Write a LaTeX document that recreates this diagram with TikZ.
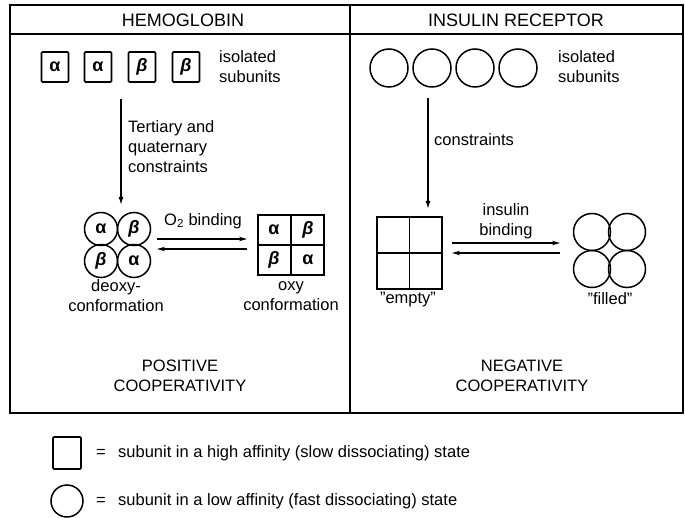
\documentclass[tikz,border=0pt]{standalone}
\usepackage{fontspec}
\setmainfont{Liberation Sans}
\usetikzlibrary{arrows.meta}

% Greek subunit labels
\newcommand\galpha{\textbf{α}}
\newcommand\gbeta{\textbf{\textit{β}}}

\tikzset{
  frame/.style={line width=1.8pt},
  greek/.style={font=\fontsize{18}{18}\selectfont},
  sqsub/.style={draw, line width=1.7pt, rounded corners=1pt, minimum width=27pt,
                minimum height=30pt, inner sep=0pt, greek},
  rdsub/.style={draw, circle, line width=1.5pt, inner sep=0pt, greek},
  tetra/.style={draw, line width=1.7pt, inner sep=0pt},
  label/.style={align=center, inner sep=0pt},
  leftlabel/.style={align=left, inner sep=0pt, anchor=west},
  header/.style={label, font=\fontsize{18}{20}\selectfont},
  fold/.style={line width=1.4pt, -{Latex[length=8pt,width=5pt]}},
  eqarrow/.style={line width=1.3pt, -{Stealth[length=8pt,width=4.5pt]}},
}

\begin{document}
\begin{tikzpicture}[x=1pt, y=-1pt, font=\fontsize{16.5}{20}\selectfont]
\useasboundingbox (0,0) rectangle (685,518);

% outer frame, panel divider and header band
\draw[frame] (10,5) rectangle (683,413);
\draw[frame] (350,5) -- (350,413);
\draw[frame] (10,34) -- (683,34);
\node[header] (hbhead) at (183,20) {HEMOGLOBIN};
\node[header] (irhead) at (516,20) {INSULIN RECEPTOR};

% ---------- hemoglobin ----------
\node[sqsub] (ha1) at (55,67)  {\galpha};
\node[sqsub] (ha2) at (98,67)  {\galpha};
\node[sqsub] (hb1) at (142,67) {\gbeta};
\node[sqsub] (hb2) at (186,67) {\gbeta};
\node[leftlabel] (hbiso) at (219,67) {isolated\\subunits};

\coordinate (hbfrom) at (121,99);
\coordinate (hbto) at (121,205);
\draw[fold] (hbfrom) -- (hbto);
\node[leftlabel] (hbcons) at (128,147) {Tertiary and\\quaternary\\constraints};

% deoxy tetramer: four touching circles
\node[rdsub, minimum size=33pt] (d1) at (101,229) {\galpha};
\node[rdsub, minimum size=33pt] (d2) at (134,229) {\gbeta};
\node[rdsub, minimum size=33pt] (d3) at (101,261) {\gbeta};
\node[rdsub, minimum size=33pt] (d4) at (134,261) {\galpha};
\node[label] (deoxy) at (116,296) {deoxy-\\conformation};

% oxygen binding equilibrium
\node[label] (o2) at (203,221) {O\textsubscript{2} binding};
\coordinate (hbl1) at (157,239);
\coordinate (hbr1) at (247,239);
\coordinate (hbl2) at (157,249);
\coordinate (hbr2) at (247,249);
\draw[eqarrow] (hbl1) -- (hbr1);
\draw[eqarrow] (hbr2) -- (hbl2);

% oxy tetramer: 2x2 grid of squares
\node[tetra, minimum width=66pt, minimum height=60pt] (oxy) at (291,245) {};
\draw[line width=1.5pt] (oxy.north) -- (oxy.south);
\draw[line width=1.5pt] (oxy.west) -- (oxy.east);
\node[greek] (o1) at (274,230) {\galpha};
\node[greek] (o2b) at (308,230) {\gbeta};
\node[greek] (o3) at (274,260) {\gbeta};
\node[greek] (o4) at (308,260) {\galpha};
\node[label] (oxylab) at (291,296) {oxy\\conformation};

\node[label] (poscoop) at (180,376) {POSITIVE\\COOPERATIVITY};

% ---------- insulin receptor ----------
\node[rdsub, minimum size=38pt] (i1) at (389,68) {};
\node[rdsub, minimum size=38pt] (i2) at (432,68) {};
\node[rdsub, minimum size=38pt] (i3) at (475,68) {};
\node[rdsub, minimum size=38pt] (i4) at (518,68) {};
\node[leftlabel] (iriso) at (558,67) {isolated\\subunits};

\coordinate (irfrom) at (428,98);
\coordinate (irto) at (428,209);
\draw[fold] (irfrom) -- (irto);
\node[leftlabel] (ircons) at (434,140) {constraints};

% "empty" receptor: 2x2 grid of squares
\node[tetra, minimum width=65pt, minimum height=72pt] (empty) at (409.5,253) {};
\draw[line width=1.5pt] (empty.north) -- (empty.south);
\draw[line width=1.5pt] (empty.west) -- (empty.east);
\node[label] (emptylab) at (408,300) {''empty''};

% insulin binding equilibrium
\node[label] (insbind) at (506,221) {insulin\\binding};
\coordinate (irl1) at (452,243);
\coordinate (irr1) at (560,243);
\coordinate (irl2) at (452,253);
\coordinate (irr2) at (560,253);
\draw[eqarrow] (irl1) -- (irr1);
\draw[eqarrow] (irr2) -- (irl2);

% "filled" receptor: four touching circles
\node[rdsub, minimum size=37pt] (f1) at (592,232) {};
\node[rdsub, minimum size=37pt] (f2) at (627,232) {};
\node[rdsub, minimum size=37pt] (f3) at (592,269) {};
\node[rdsub, minimum size=37pt] (f4) at (627,269) {};
\node[label] (filledlab) at (610,299) {''filled''};

\node[label] (negcoop) at (522,376) {NEGATIVE\\COOPERATIVITY};

% ---------- key ----------
\node[sqsub, minimum width=28pt, minimum height=32pt] (keysq) at (67,453) {};
\node[label] (eq1) at (101,453) {=};
\node[leftlabel] (keysqtxt) at (118,453) {subunit in a high affinity (slow dissociating) state};
\node[rdsub, minimum size=32pt] (keyci) at (67,501) {};
\node[label] (eq2) at (101,501) {=};
\node[leftlabel] (keycitxt) at (118,501) {subunit in a low affinity (fast dissociating) state};
\end{tikzpicture}
\end{document}
